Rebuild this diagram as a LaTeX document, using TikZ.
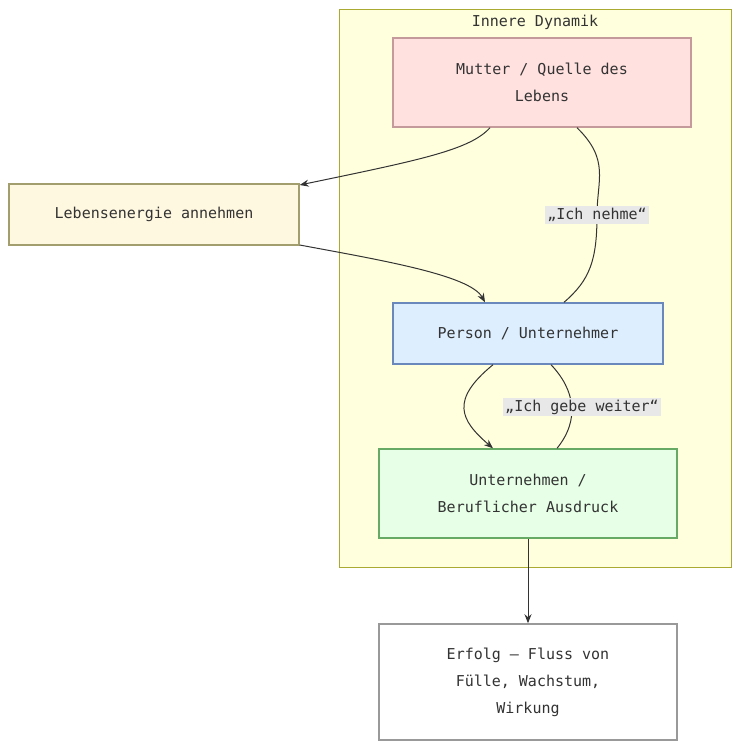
\documentclass[tikz,border=0pt]{standalone}
\usepackage{fontspec}
\setmonofont{DejaVu Sans Mono}
\usetikzlibrary{arrows.meta}
\definecolor{clfill}{HTML}{FFFFDE}\definecolor{cldraw}{HTML}{AAAA33}
\definecolor{mfill}{HTML}{FFE1DF}\definecolor{mdraw}{HTML}{C49A9A}
\definecolor{lfill}{HTML}{FFF8E1}\definecolor{ldraw}{HTML}{A39E6E}
\definecolor{pfill}{HTML}{DDEEFF}\definecolor{pdraw}{HTML}{6A88BB}
\definecolor{ufill}{HTML}{E6FFE6}\definecolor{udraw}{HTML}{66AA66}
\definecolor{lblbg}{HTML}{E8E8E8}\definecolor{txt}{HTML}{333333}
\begin{document}
\begin{tikzpicture}[x=1pt,y=-1pt,
  every node/.style={font=\ttfamily\fontsize{15}{27}\selectfont,text=txt},
  box/.style={draw,line width=1.5pt,minimum width=#1,align=center,inner sep=0},
  edge/.style={draw=txt,line width=1pt},
  arr/.style={edge,-{Stealth[length=9pt,width=7pt]}},
  lbl/.style={fill=lblbg,inner sep=2pt}]
\useasboundingbox (0,0) rectangle (740,750);
\draw[fill=clfill,draw=cldraw] (339,9) rectangle (731,567);
\node (title) at (535,22) {Innere Dynamik};
\node[box=298pt,minimum height=89pt,fill=mfill,draw=mdraw] (m) at (542,82.5) {Mutter / Quelle des\\Lebens};
\node[box=290pt,minimum height=61pt,fill=lfill,draw=ldraw] (l) at (154,214.5) {Lebensenergie annehmen};
\node[box=270pt,minimum height=61pt,fill=pfill,draw=pdraw] (p) at (528,333.5) {Person / Unternehmer};
\node[box=298pt,minimum height=89pt,fill=ufill,draw=udraw] (u) at (528,493.5) {Unternehmen /\\Beruflicher Ausdruck};
\node[box=298pt,minimum height=116pt,fill=white,draw=gray!80] (e) at (528,682) {Erfolg – Fluss von\\Fülle, Wachstum,\\Wirkung};
\coordinate (m1) at (490,127.7); \coordinate (m2) at (577,127.7);
\coordinate (p1) at (485,302.3); \coordinate (p2) at (564,302.3);
\coordinate (p3) at (493,364.7); \coordinate (p4) at (551,364.7);
\coordinate (u1) at (493,448.3); \coordinate (u2) at (557,448.3);
\coordinate (l1) at (299.7,185); \coordinate (l2) at (299.7,245);
\draw[arr] (m1) .. controls (470,150) and (420,160) .. (l1);
\draw[arr] (l2) .. controls (380,260) and (470,275) .. (p1);
\draw[edge] (m2) .. controls (610,160) and (597,180) .. (597,215) .. controls (597,260) and (590,280) .. (p2);
\node[lbl] (n1) at (597,215) {„Ich nehme“};
\draw[arr] (p3) .. controls (450,400) and (460,420) .. (u1);
\draw[edge] (p4) .. controls (575,390) and (580,420) .. (u2);
\node[lbl] (n2) at (582,407) {„Ich gebe weiter“};
\draw[arr] (u) -- (e);
\end{tikzpicture}
\end{document}
